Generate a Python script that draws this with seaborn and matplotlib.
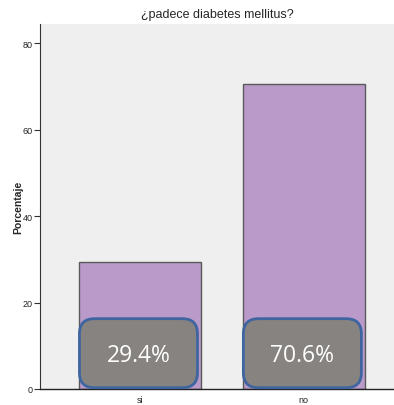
import matplotlib
matplotlib.use("Agg")
import matplotlib.pyplot as plt
import seaborn as sns
import pandas as pd
from matplotlib.patches import FancyBboxPatch

categories = ["si", "no"]
percentages = [29.4, 70.6]
value_labels = ["29.4%", "70.6%"]
y_ticks = [0, 20, 40, 60, 80]

df = pd.DataFrame({"respuesta": categories, "Porcentaje": percentages})

sns.set_style("white")
fig = plt.figure(figsize=(3.94, 4.06), dpi=100)
ax = fig.add_axes([40 / 394, 16 / 406, 1 - 40 / 394, 365 / 406])
ax.set_facecolor("#efefef")

sns.barplot(data=df, x="respuesta", y="Porcentaje", order=categories,
            color="#b99ac9", saturation=1, width=0.744,
            edgecolor="#5a5a5a", linewidth=1.0, ax=ax)

ax.set_xlim(-0.61, 1.55)
ax.set_ylim(0, 84.4)
ax.set_yticks(y_ticks)
ax.set_yticklabels([str(t) for t in y_ticks])
ax.tick_params(axis="y", length=4, width=0.8, color="#333333", pad=1,
               labelsize=6.5, direction="out", left=True)
ax.tick_params(axis="x", length=0, labelsize=6.5, pad=4)
for lab in ax.get_xticklabels() + ax.get_yticklabels():
    lab.set_family("Liberation Sans")
    lab.set_color("#222222")

for side in ["top", "right"]:
    ax.spines[side].set_visible(False)
ax.spines["left"].set_color("#333333")
ax.spines["bottom"].set_color("#222222")
ax.spines["left"].set_linewidth(0.8)
ax.spines["bottom"].set_linewidth(1.0)

ax.set_xlabel("")
ax.set_ylabel("Porcentaje", fontsize=7.5, fontweight="bold",
              family="Liberation Sans", labelpad=0)
ax.set_title("¿padece diabetes mellitus?", fontsize=9,
             family="Liberation Sans", pad=5)

# rounded value boxes at the base of each bar
x_per_px = (1.55 + 0.61) / 354
y_per_px = 84.4 / 365
aspect = y_per_px / x_per_px
box_w = 118 * x_per_px
box_h = 69 * y_per_px
for patch, text in zip(ax.patches, value_labels):
    cx = patch.get_x() + patch.get_width() / 2 - 1.5 * x_per_px
    box = FancyBboxPatch((cx - box_w / 2, 0.3), box_w, box_h,
                         boxstyle=f"round,pad=0,rounding_size={15 * x_per_px}",
                         mutation_aspect=aspect,
                         facecolor="#878380", edgecolor="#3f65a0",
                         linewidth=2.0, zorder=5, clip_on=False)
    ax.add_patch(box)
    ax.text(cx, 0.3 + box_h / 2 - 2 * y_per_px, text, ha="center", va="center",
            color="white", fontsize=16.5, family="Open Sans", zorder=6)

fig.savefig("out.png", dpi=100, facecolor="white")
